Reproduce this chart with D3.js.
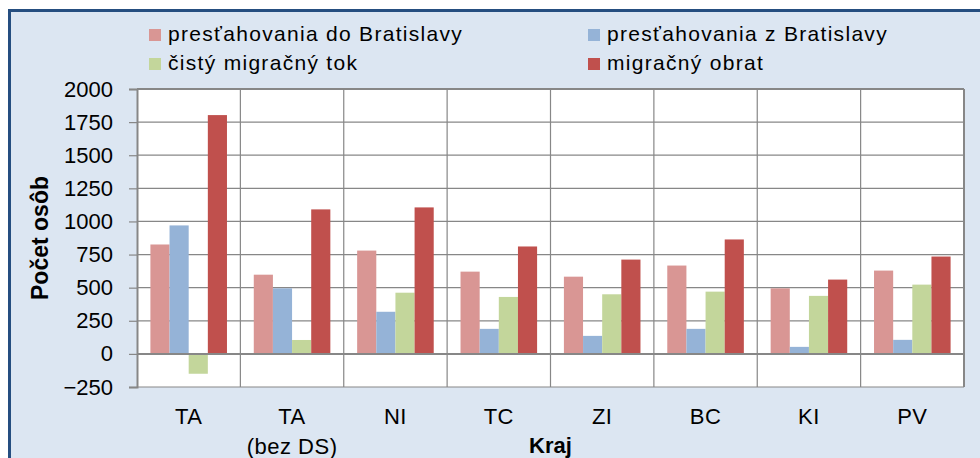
<!DOCTYPE html>
<html>
<head>
<meta charset="utf-8">
<script src="https://cdn.jsdelivr.net/npm/d3@7"></script>
<style>
	body { margin: 0; background: #fff; }
	text { font-family: "Liberation Sans", Arial, sans-serif; fill: #000; }
</style>
</head>
<body>
<div id="chart"></div>
<script>
// data
var regions = ["TA", "TA (bez DS)", "NI", "TC", "ZI", "BC", "KI", "PV"];
var regionLabels = [["TA"], ["TA", "(bez DS)"], ["NI"], ["TC"], ["ZI"], ["BC"], ["KI"], ["PV"]];
var seriesNames = ["presťahovania do Bratislavy", "presťahovania z Bratislavy", "čistý migračný tok", "migračný obrat"];
var toBratislava = [826, 598, 780, 621, 583, 667, 495, 629];
var fromBratislava = [970, 495, 318, 189, 136, 189, 53, 106];
var netFlow = [-150, 105, 462, 430, 450, 470, 438, 523];
var turnover = [1803, 1091, 1106, 811, 712, 864, 561, 735];
var yTicks = [-250, 0, 250, 500, 750, 1000, 1250, 1500, 1750, 2000];
var colors = ["#D99694", "#95B3D7", "#C3D69B", "#C0504D"];

var values = [toBratislava, fromBratislava, netFlow, turnover];
var data = regions.map(function(r, i) {
	return { region: r, vals: values.map(function(s) { return s[i]; }) };
});

var W = 980, H = 458;
var margin = {top: 89, right: 16, bottom: 71, left: 137},
	width = W - margin.left - margin.right,
	height = H - margin.top - margin.bottom;

var svg = d3.select("#chart")
	.append("svg")
	.attr("width", W)
	.attr("height", H);

// outer frame
svg.append("rect")
	.attr("x", 9.5).attr("y", 10.5)
	.attr("width", W + 20).attr("height", H + 20)
	.attr("fill", "#DCE6F2")
	.attr("stroke", "#254E80")
	.attr("stroke-width", 3);

var g = svg.append("g")
	.attr("transform", "translate(" + margin.left + "," + margin.top + ")");

var x0 = d3.scaleBand().domain(regions).range([0, width]).padding(0);
var x1 = d3.scaleBand().domain(d3.range(seriesNames.length))
	.range([0, x0.bandwidth()]).paddingInner(0).paddingOuter(0.7);
var y = d3.scaleLinear().domain([-250, 2000]).range([height, 0]);

g.append("rect")
	.attr("width", width).attr("height", height)
	.attr("fill", "#fff");

// horizontal grid
g.selectAll(".hgrid")
	.data(yTicks)
	.enter().append("line")
	.attr("x1", 0).attr("x2", width)
	.attr("y1", function(d) { return y(d); })
	.attr("y2", function(d) { return y(d); })
	.attr("stroke", "#878787")
	.attr("stroke-width", function(d) { return d === 0 || d === 2000 ? 2 : 1.2; });

// vertical grid at category boundaries
g.selectAll(".vgrid")
	.data(regions.slice(1))
	.enter().append("line")
	.attr("x1", function(d) { return x0(d); })
	.attr("x2", function(d) { return x0(d); })
	.attr("y1", 0).attr("y2", height)
	.attr("stroke", "#878787")
	.attr("stroke-width", 1.2);

g.append("line")
	.attr("x1", width).attr("x2", width)
	.attr("y1", 0).attr("y2", height)
	.attr("stroke", "#878787")
	.attr("stroke-width", 2);

// bars
var groups = g.selectAll(".grp")
	.data(data)
	.enter().append("g")
	.attr("transform", function(d) { return "translate(" + x0(d.region) + ",0)"; });

groups.selectAll("rect")
	.data(function(d) { return d.vals; })
	.enter().append("rect")
	.attr("x", function(d, i) { return x1(i); })
	.attr("width", x1.bandwidth())
	.attr("y", function(d) { return y(Math.max(0, d)); })
	.attr("height", function(d) { return Math.abs(y(d) - y(0)); })
	.attr("fill", function(d, i) { return colors[i]; });

// redraw zero line over bars
g.append("line")
	.attr("x1", 0).attr("x2", width)
	.attr("y1", y(0)).attr("y2", y(0))
	.attr("stroke", "#878787")
	.attr("stroke-width", 2);

// y axis
var yAxis = g.append("g")
	.call(d3.axisLeft(y).tickValues(yTicks).tickFormat(d3.format("d")).tickSize(8).tickPadding(16));
yAxis.select(".domain").attr("stroke", "#878787").attr("stroke-width", 2);
yAxis.selectAll(".tick line").attr("stroke", "#878787").attr("stroke-width", 1.2);
yAxis.selectAll(".tick text")
	.style("font-size", "22px")
	.style("font-family", "Liberation Sans, Arial, sans-serif")
	.attr("fill", "#000");

// x labels
var xl = g.selectAll(".xlab")
	.data(regions)
	.enter().append("text")
	.attr("x", function(d) { return x0(d) + x0.bandwidth() / 2; })
	.attr("y", height + 37)
	.attr("text-anchor", "middle")
	.style("font-size", "22px")
	.style("letter-spacing", "0.5px");
xl.selectAll("tspan")
	.data(function(d, i) { return regionLabels[i]; })
	.enter().append("tspan")
	.attr("x", function() { return d3.select(this.parentNode).attr("x"); })
	.attr("dy", function(d, i) { return i === 0 ? 0 : 30; })
	.text(function(d) { return d; });

// axis titles
g.append("text")
	.attr("x", width / 2)
	.attr("y", height + 66)
	.attr("text-anchor", "middle")
	.style("font-size", "22px")
	.style("font-weight", "bold")
	.text("Kraj");

svg.append("text")
	.attr("transform", "translate(48," + 238 + ") rotate(-90)")
	.attr("text-anchor", "middle")
	.style("font-size", "23px")
	.style("font-weight", "bold")
	.text("Počet osôb");

// legend
var legendPos = [[149, 29], [588, 29], [149, 58], [588, 58]];
var legend = svg.selectAll(".leg")
	.data(seriesNames)
	.enter().append("g")
	.attr("transform", function(d, i) { return "translate(" + legendPos[i][0] + "," + legendPos[i][1] + ")"; });

legend.append("rect")
	.attr("width", 12).attr("height", 12)
	.attr("fill", function(d, i) { return colors[i]; });

legend.append("text")
	.attr("x", 19)
	.attr("y", 12)
	.style("font-size", "21px")
	.style("letter-spacing", "1.3px")
	.text(function(d) { return d; });
</script>
</body>
</html>
